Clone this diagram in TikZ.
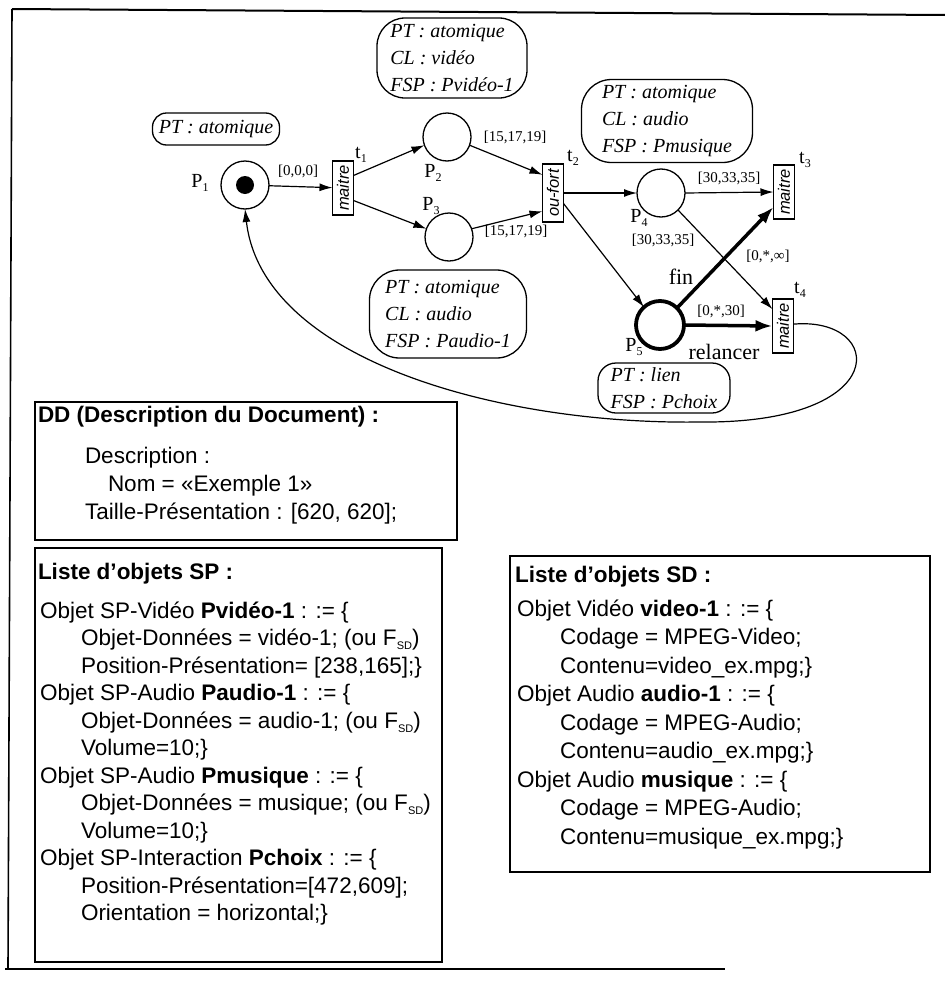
\documentclass[tikz,border=0pt]{standalone}
\usepackage{fontspec}
\setmainfont{Liberation Serif}
\setsansfont{Liberation Sans}
\usetikzlibrary{arrows.meta}
\newcommand\sbs[1]{\raisebox{-0.45ex}{\fontsize{12bp}{12bp}\selectfont #1}}
\newcommand\fsd{F\raisebox{-0.35ex}{\fontsize{11bp}{11bp}\selectfont SD}}
\begin{document}
\begin{tikzpicture}[x=1bp,y=-1bp,
  every node/.style={inner sep=0pt,outer sep=0pt},
  place/.style={circle,draw,line width=1.3bp,minimum size=48bp},
  trans/.style={draw,line width=1.3bp,minimum width=21bp,minimum height=54bp,font=\sffamily\itshape\fontsize{16.5bp}{16.5bp}\selectfont},
  lbl/.style={font=\fontsize{20bp}{20bp}\selectfont},
  ilbl/.style={font=\fontsize{15bp}{15bp}\selectfont},
  ann/.style={draw,line width=1.3bp,font=\itshape\fontsize{20bp}{27bp}\selectfont,align=left},
  arc/.style={line width=1.2bp,-{Latex[length=13bp,width=8bp]}},
  boldarc/.style={line width=3.5bp,-{Latex[length=17bp,width=12bp]}},
  txt/.style={anchor=west,font=\sffamily\fontsize{22.5bp}{27.5bp}\selectfont,text height=16bp,text depth=4bp},
  frame/.style={draw,line width=1.6bp}
]
\useasboundingbox (0,0) rectangle (945,981);

% outer frame
\coordinate (fa) at (12,9);
\coordinate (fb) at (945,15);
\coordinate (fc) at (8,969);
\coordinate (fd) at (725,969);
\draw[line width=2bp] (fa) -- (fb);
\draw[line width=1.6bp] (fa) -- (fc);
\draw[line width=1.8bp] (5,969) -- (fd);

% ---------- Petri net ----------
\node[place] (P1) at (245,185) {};
\node[circle,fill,minimum size=18bp] (tok) at (P1) {};
\node[place] (P2) at (447,137) {};
\node[place] (P3) at (449,237) {};
\node[place] (P4) at (661,193) {};
\node[place,line width=3.8bp] (P5) at (660,325) {};

\node[trans] (t1) at (343,188) {\rotatebox{90}{maitre}};
\node[trans,minimum height=58bp] (t2) at (553,193) {\rotatebox{90}{ou-fort}};
\node[trans] (t3) at (784,192) {\rotatebox{90}{maitre}};
\node[trans] (t4) at (783,326) {\rotatebox{90}{maitre}};

% annotations
\node[ann,rounded corners=14bp,minimum width=127bp,minimum height=32bp] (a1) at (216,129) {PT : atomique};
\node[ann,rounded corners=28bp,minimum width=150bp,minimum height=80bp] (a2) at (452,58) {PT : atomique\\CL : vidéo\\FSP : Pvidéo-1};
\node[ann,rounded corners=30bp,minimum width=171bp,minimum height=83bp] (a4) at (667,121) {PT : atomique\\CL : audio\\FSP : Pmusique};
\node[ann,rounded corners=30bp,minimum width=157bp,minimum height=88bp] (a3) at (448,314) {PT : atomique\\CL : audio\\FSP : Paudio-1};
\node[ann,rounded corners=18bp,minimum width=132bp,minimum height=50bp] (a5) at (664,388) {PT : lien\\FSP : Pchoix};

% labels
\node[lbl] (lP1) at (200,183) {P\sbs{1}};
\node[lbl] (lP2) at (433,173) {P\sbs{2}};
\node[lbl] (lP3) at (431,206) {P\sbs{3}};
\node[lbl] (lP4) at (639,218) {P\sbs{4}};
\node[lbl] (lP5) at (634,347) {P\sbs{5}};
\node[lbl] (lt1) at (361,155) {t\sbs{1}};
\node[lbl] (lt2) at (573,158) {t\sbs{2}};
\node[lbl] (lt3) at (805,160) {t\sbs{3}};
\node[lbl] (lt4) at (800,290) {t\sbs{4}};
\node[ilbl] (w1) at (298,171) {[0,0,0]};
\node[ilbl] (w2) at (515,137) {[15,17,19]};
\node[ilbl] (w3) at (516,231) {[15,17,19]};
\node[ilbl] (w4) at (729,178) {[30,33,35]};
\node[ilbl] (w5) at (663,240) {[30,33,35]};
\node[ilbl] (w6) at (768,256) {[0,*,∞]};
\node[ilbl] (w7) at (721,311) {[0,*,30]};
\node[font=\fontsize{22bp}{22bp}\selectfont] (fin) at (681,277) {fin};
\node[font=\fontsize{22bp}{22bp}\selectfont] (rel) at (724,352) {relancer};

% arcs
\draw[arc] (P1) -- (t1);
\draw[arc] (t1.50) -- (P2.200);
\draw[arc] (t1.-50) -- (P3.160);
\draw[arc] (P2.-20) -- (t2.120);
\draw[arc] (P3.20) -- (t2.-120);
\draw[arc] (t2.east) -- (P4.west);
\draw[arc] (t2.-45) -- (P5.132);
\draw[arc] (P4.east) -- (t3.west);
\draw[arc] (P4.-45) -- (t4.122);
\draw[boldarc] (P5.45) -- (t3.-125);
\draw[boldarc] (P5.east) -- (t4.west);
\draw[line width=1.2bp,-{Latex[length=13bp,width=8bp]}] (t4.10) .. controls (885,316) and (895,424) .. (700,422)
   .. controls (500,425) and (262,360) .. (P1.south);

% ---------- text boxes ----------
\node[frame,minimum width=422bp,minimum height=138bp] (DD) at (246,471) {};
\node[txt] (dd0) at (38,416) {\textbf{DD (Description du Document) :}};
\node[txt] (dd1) at (85,457) {Description :};
\node[txt] (dd2) at (108,485) {Nom = «Exemple 1»};
\node[txt] (dd3) at (85,513) {Taille-Présentation : [620, 620];};

\node[frame,minimum width=407bp,minimum height=414bp] (SP) at (238.5,755) {};
\node[txt] (sp0) at (38,573) {\textbf{Liste d'objets SP :}};
\node[txt] (sp1) at (40,612) {Objet SP-Vidéo \textbf{Pvidéo-1} : := \{};
\node[txt] (sp2) at (81,639.5) {Objet-Données = vidéo-1; (ou \fsd)};
\node[txt] (sp3) at (81,667) {Position-Présentation= [238,165];\}};
\node[txt] (sp4) at (40,694.5) {Objet SP-Audio \textbf{Paudio-1} : := \{};
\node[txt] (sp5) at (81,722) {Objet-Données = audio-1; (ou \fsd)};
\node[txt] (sp6) at (81,749.5) {Volume=10;\}};
\node[txt] (sp7) at (40,777) {Objet SP-Audio \textbf{Pmusique} : := \{};
\node[txt] (sp8) at (81,804.5) {Objet-Données = musique; (ou \fsd)};
\node[txt] (sp9) at (81,832) {Volume=10;\}};
\node[txt] (sp10) at (40,859.5) {Objet SP-Interaction \textbf{Pchoix} : := \{};
\node[txt] (sp11) at (81,887) {Position-Présentation=[472,609];};
\node[txt] (sp12) at (81,914.5) {Orientation = horizontal;\}};

\node[frame,minimum width=420bp,minimum height=316bp] (SD) at (720,714) {};
\node[txt] (sd0) at (515,576) {\textbf{Liste d'objets SD :}};
\node[txt] (sd1) at (517,610) {Objet Vidéo \textbf{video-1} : := \{};
\node[txt] (sd2) at (560,638.5) {Codage = MPEG-Video;};
\node[txt] (sd3) at (560,667) {Contenu=video\_ex.mpg;\}};
\node[txt] (sd4) at (517,695.5) {Objet Audio \textbf{audio-1} : := \{};
\node[txt] (sd5) at (560,724) {Codage = MPEG-Audio;};
\node[txt] (sd6) at (560,752.5) {Contenu=audio\_ex.mpg;\}};
\node[txt] (sd7) at (517,781) {Objet Audio \textbf{musique} : := \{};
\node[txt] (sd8) at (560,809.5) {Codage = MPEG-Audio;};
\node[txt] (sd9) at (560,838) {Contenu=musique\_ex.mpg;\}};
\end{tikzpicture}
\end{document}
